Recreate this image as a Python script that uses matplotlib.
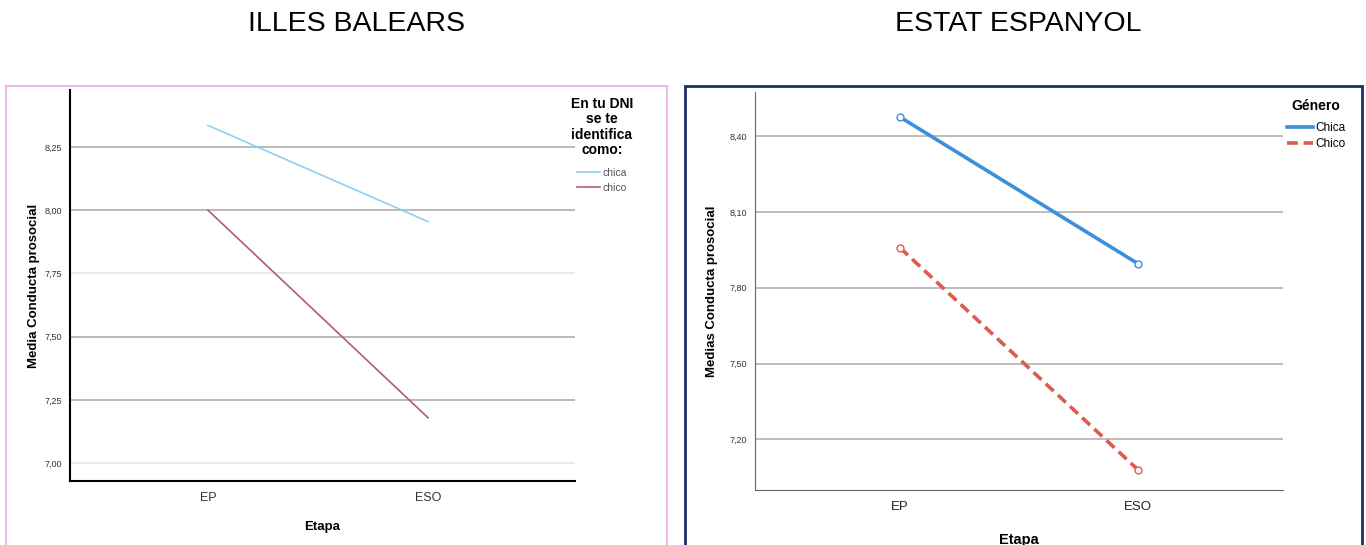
import matplotlib.pyplot as plt
import numpy as np
from matplotlib.patches import Rectangle

plt.rcParams['font.family'] = ['Liberation Sans', 'DejaVu Sans']

# datos
etapas = ['EP', 'ESO']
bal_chica = [8.335, 7.955]
bal_chico = [8.00, 7.18]
esp_chica = [8.475, 7.895]
esp_chico = [7.958, 7.08]
bal_ticks = [7.00, 7.25, 7.50, 7.75, 8.00, 8.25]
esp_ticks = [7.20, 7.50, 7.80, 8.10, 8.40]

W, H = 1366, 545
fig = plt.figure(figsize=(W / 100, H / 100), dpi=100, facecolor='white')

def fx(px):
    return px / W

def fy(py):
    return 1 - py / H

def coma(v):
    return ('%.2f' % v).replace('.', ',')

# marcos exteriores
fig.add_artist(Rectangle((fx(6), -0.02), fx(667) - fx(6), fy(86) + 0.02,
                         transform=fig.transFigure, fill=False,
                         edgecolor='#ecb8ec', linewidth=1.5))
fig.add_artist(Rectangle((fx(685), -0.02), fx(1362) - fx(685), fy(86) + 0.02,
                         transform=fig.transFigure, fill=False,
                         edgecolor='#1c2d6b', linewidth=2))

fig.text(fx(356), fy(24), 'ILLES BALEARS', ha='center', va='center', fontsize=20.5)
fig.text(fx(1018), fy(24), 'ESTAT ESPANYOL', ha='center', va='center', fontsize=20.5)

x = np.arange(len(etapas))

# ---------------- Illes Balears ----------------
ax1 = fig.add_axes([fx(70), fy(481), fx(575) - fx(70), fy(90) - fy(481)])
ax1.plot(x, bal_chica, color='#8fd0f4', linewidth=1.2, label='chica')
ax1.plot(x, bal_chico, color='#b25a78', linewidth=1.2, label='chico')
ax1.set_xlim(-0.627, 1.668)
ax1.set_ylim(6.93, 8.475)
ax1.set_xticks(x)
ax1.set_xticklabels(etapas, fontsize=9, color='#333333')
ax1.set_yticks(bal_ticks)
ax1.set_yticklabels([coma(v) for v in bal_ticks], fontsize=6.5, color='#333333')
ax1.tick_params(length=0, pad=6)
ax1.tick_params(axis='x', pad=8)
for v in bal_ticks:
    c = '#e6e6e6' if v in (7.00, 7.75) else '#b4b4b4'
    ax1.axhline(v, color=c, linewidth=1.3, zorder=0)
for s in ['top', 'right']:
    ax1.spines[s].set_visible(False)
ax1.spines['left'].set_linewidth(1.5)
ax1.spines['bottom'].set_linewidth(1.5)
ax1.set_ylabel('Media Conducta prosocial', fontsize=9.5, fontweight='bold', labelpad=3)
ax1.set_xlabel('Etapa', fontsize=9.5, fontweight='bold', labelpad=12)
leg1 = ax1.legend(title='En tu DNI\nse te\nidentifica\ncomo:', loc='upper center',
                  bbox_to_anchor=(fx(602), fy(88)), bbox_transform=fig.transFigure,
                  frameon=False, fontsize=7.5, handlelength=2.2, handletextpad=0.2,
                  labelspacing=0.5, title_fontproperties={'weight': 'bold', 'size': 10})
leg1.get_title().set_multialignment('center')
leg1.get_title().set_linespacing(1.1)
leg1._legend_box.sep = 8
for t in leg1.get_texts():
    t.set_color('#555555')

# ---------------- Estat Espanyol ----------------
ax2 = fig.add_axes([fx(755), fy(490), fx(1283) - fx(755), fy(92) - fy(490)])
ax2.plot(x, esp_chica, color='#3d8fdc', linewidth=2.6, marker='o', markersize=5,
         markerfacecolor='white', markeredgewidth=1, label='Chica')
ax2.plot(x, esp_chico, color='#dd5b4f', linewidth=2.6, linestyle=(0, (3, 1.6)), marker='o',
         markersize=5, markerfacecolor='white', markeredgewidth=1, label='Chico')
ax2.set_xlim(-0.609, 1.609)
ax2.set_ylim(7.0, 8.574)
ax2.set_xticks(x)
ax2.set_xticklabels(etapas, fontsize=9.5, color='#222222')
ax2.set_yticks(esp_ticks)
ax2.set_yticklabels([coma(v) for v in esp_ticks], fontsize=6.5, color='#333333')
ax2.tick_params(length=0, pad=6)
ax2.tick_params(axis='x', pad=8)
for v in esp_ticks:
    ax2.axhline(v, color='#b8b8b8', linewidth=1.3, zorder=0)
for s in ['top', 'right']:
    ax2.spines[s].set_visible(False)
ax2.spines['left'].set_color('#666666')
ax2.spines['bottom'].set_color('#666666')
ax2.set_ylabel('Medias Conducta prosocial', fontsize=9.5, fontweight='bold', labelpad=8)
ax2.set_xlabel('Etapa', fontsize=10.5, fontweight='bold', labelpad=14)
leg2 = ax2.legend(title='Género', loc='upper center',
                  bbox_to_anchor=(fx(1316), fy(88)), bbox_transform=fig.transFigure,
                  frameon=False, fontsize=8.5, handlelength=2.2, handletextpad=0.2,
                  labelspacing=0.35, title_fontproperties={'weight': 'bold', 'size': 10})
leg2._legend_box.sep = 7
for h in leg2.legend_handles:
    h.set_marker('')

fig.savefig('out.png', dpi=100, facecolor='white')
